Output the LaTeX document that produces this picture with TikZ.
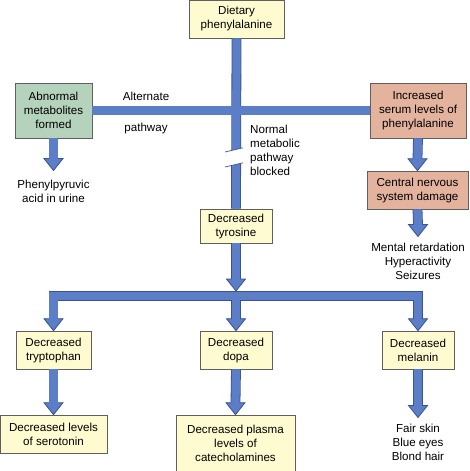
\documentclass[tikz,border=0pt]{standalone}
\usepackage{fontspec}
\setmainfont{Liberation Sans}
\usetikzlibrary{calc}
\definecolor{arrowblue}{RGB}{92, 126, 198}
\definecolor{arrowdark}{RGB}{58, 82, 148}
\definecolor{boxedge}{RGB}{95, 95, 95}
\definecolor{boxyellow}{RGB}{255, 251, 208}
\definecolor{boxgreen}{RGB}{181, 211, 188}
\definecolor{boxsalmon}{RGB}{227, 179, 158}

\tikzset{
    box/.style={draw=boxedge, line width=0.6pt, align=center, inner sep=2pt,
        font=\fontsize{11.6}{14}\selectfont},
    yellowbox/.style={box, fill=boxyellow},
    greenbox/.style={box, fill=boxgreen},
    salmonbox/.style={box, fill=boxsalmon},
    plain/.style={align=center, inner sep=0pt, font=\fontsize{11.6}{14}\selectfont},
    shaftline/.style={arrowdark, line width=9.8pt},
    shaftfill/.style={arrowblue, line width=8.2pt},
    head/.style={fill=arrowblue, draw=arrowdark, line width=0.8pt, line join=miter}
}

\begin{document}
\begin{tikzpicture}[x=1pt, y=-1pt]
    \useasboundingbox (0,0) rectangle (469,471);
    \def\hl{12}  % head length
    \def\hw{9.5} % half head width

    % 1. Boxes
    \node[yellowbox, minimum width=95pt, minimum height=38pt] (diet) at (236.5,19) {Dietary\\phenylalanine};
    \node[greenbox, minimum width=77pt, minimum height=55pt] (abn) at (53.5,110.5) {Abnormal\\metabolites\\formed};
    \node[salmonbox, minimum width=96pt, minimum height=55pt] (inc) at (418,110.5) {Increased\\serum levels of\\phenylalanine};
    \node[salmonbox, minimum width=101pt, minimum height=38pt] (cns) at (417.5,190) {Central nervous\\system damage};
    \node[yellowbox, minimum width=72pt, minimum height=34pt] (tyro) at (236,226) {Decreased\\tyrosine};
    \node[yellowbox, minimum width=75pt, minimum height=38pt] (tryp) at (53.5,350) {Decreased\\tryptophan};
    \node[yellowbox, minimum width=72pt, minimum height=38pt] (dopa) at (236,350) {Decreased\\dopa};
    \node[yellowbox, minimum width=72pt, minimum height=38pt] (mel) at (418,350) {Decreased\\melanin};
    \node[yellowbox, minimum width=107pt, minimum height=38pt] (sero) at (53.5,434) {Decreased levels\\of serotonin};
    \node[yellowbox, minimum width=119pt, minimum height=56pt] (cate) at (235.5,443) {Decreased plasma\\levels of\\catecholamines};

    % 2. Plain texts
    \node[plain] (phen) at (53.5,191) {Phenylpyruvic\\acid in urine};
    \node[plain] (ment) at (418,261) {Mental retardation\\Hyperactivity\\Seizures};
    \node[plain] (fair) at (418,442) {Fair skin\\Blue eyes\\Blond hair};
    \node[plain] (alt) at (146,96) {Alternate};
    \node[plain] (pw) at (146,128) {pathway};
    \node[plain, align=left, anchor=north west] (blk) at (250,124.5) {Normal\\metabolic\\pathway\\blocked};

    % 3. Arrow tips and branch points
    \coordinate (tipA) at ($(phen.north)+(0,-9)$);
    \coordinate (tipB) at (cns.north);
    \coordinate (tipC) at ($(ment.north)+(0,-6)$);
    \coordinate (tipD) at (236,291);
    \coordinate (split) at (236,296);
    \coordinate (tipE) at (tryp.north);
    \coordinate (tipF) at (dopa.north);
    \coordinate (tipG) at (mel.north);
    \coordinate (tipH) at (sero.north);
    \coordinate (tipI) at (cate.north);
    \coordinate (tipJ) at ($(fair.north)+(0,-6)$);

    % 4. Shaft outlines
    \draw[shaftline] (diet.south) -- (tyro.north);
    \draw[shaftline] (abn.east) -- (inc.west);
    \draw[shaftline, line join=miter] ($(tipE)+(0,-\hl)$) -- (tipE |- split) -- (tipG |- split) -- ($(tipG)+(0,-\hl)$);
    \draw[shaftline] (split) -- ($(tipF)+(0,-\hl)$);
    \foreach \s/\t in {abn.south/tipA, inc.south/tipB, cns.south/tipC, tyro.south/tipD,
                       tryp.south/tipH, dopa.south/tipI, mel.south/tipJ}
        \draw[shaftline] (\s) -- ($(\t)+(0,-\hl)$);

    % 5. Heads
    \foreach \t in {tipA, tipB, tipC, tipD, tipE, tipF, tipG, tipH, tipI, tipJ}
        \draw[head] ($(\t)+(-\hw,-\hl)$) -- (\t) -- ($(\t)+(\hw,-\hl)$) -- cycle;

    % 6. Shaft fills
    \draw[shaftfill] (diet.south) -- (tyro.north);
    \draw[shaftfill] (abn.east) -- (inc.west);
    \draw[shaftfill, line join=miter] ($(tipE)+(0,-\hl+1)$) -- (tipE |- split) -- (tipG |- split) -- ($(tipG)+(0,-\hl+1)$);
    \draw[shaftfill] (split) -- ($(tipF)+(0,-\hl+1)$);
    \foreach \s/\t in {abn.south/tipA, inc.south/tipB, cns.south/tipC, tyro.south/tipD,
                       tryp.south/tipH, dopa.south/tipI, mel.south/tipJ}
        \draw[shaftfill] (\s) -- ($(\t)+(0,-\hl+1)$);

    % 7. Break in the normal pathway
    \fill[white] (226,151.8) -- (243,147.8) -- (243,162.8) -- (226,166.8) -- cycle;
    \draw[arrowdark, line width=0.7pt] (225,152) -- (243,147.8);
    \draw[arrowdark, line width=0.7pt] (225,167) -- (243,162.8);
\end{tikzpicture}
\end{document}
